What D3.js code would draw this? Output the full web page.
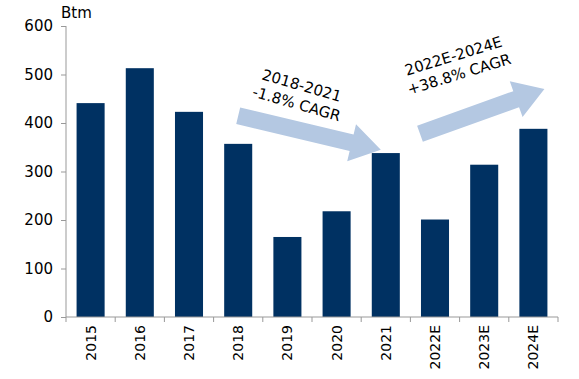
<!DOCTYPE html>
<html>
<head>
<meta charset="utf-8">
<title>Btm</title>
<style>
    body { margin: 0; background: #fff; }
    svg text { font-family: "DejaVu Sans", Verdana, sans-serif; }
</style>
</head>
<body>
<svg id="chart"></svg>
<script src="https://d3js.org/d3.v7.min.js"></script>
<script>
    // data
    const years = ["2015", "2016", "2017", "2018", "2019", "2020", "2021", "2022E", "2023E", "2024E"];
    const values = [441, 513, 423, 357, 165, 218, 338, 201, 314, 388];
    const yTicks = [0, 100, 200, 300, 400, 500, 600];
    const unitLabel = "Btm";
    const notes = [
        {lines: ["2018-2021", "-1.8% CAGR"], from: "2018", to: "2021"},
        {lines: ["2022E-2024E", "+38.8% CAGR"], from: "2022E", to: "2024E"}
    ];

    const svgWidth = 579, svgHeight = 379;
    const margin = {top: 26, right: 21, bottom: 62, left: 66};
    const width = svgWidth - margin.left - margin.right;
    const height = svgHeight - margin.top - margin.bottom;

    const svg = d3.select("#chart")
        .attr("width", svgWidth)
        .attr("height", svgHeight);

    const g = svg.append("g")
        .attr("transform", "translate(" + margin.left + "," + margin.top + ")");

    const x = d3.scaleBand().domain(years).range([0, width]).paddingInner(0.43).paddingOuter(0.215);
    const y = d3.scaleLinear().domain([0, 600]).range([height, 0]);

    // bars
    g.selectAll(".bar")
        .data(values)
        .enter().append("rect")
        .attr("class", "bar")
        .attr("x", function(d, i) { return x(years[i]); })
        .attr("y", function(d) { return y(d); })
        .attr("width", x.bandwidth())
        .attr("height", function(d) { return height - y(d); })
        .attr("fill", "#003162");

    // y axis
    const yAxis = g.append("g")
        .call(d3.axisLeft(y).tickValues(yTicks).tickSize(5).tickPadding(8));
    yAxis.selectAll("text").attr("font-size", 15).attr("fill", "#000");
    yAxis.selectAll("line, path").attr("stroke", "#999");
    yAxis.select(".domain").attr("d", "M0," + height + "V0");

    g.append("text")
        .attr("x", -5)
        .attr("y", -8)
        .attr("font-size", 15)
        .attr("fill", "#000")
        .text(unitLabel);

    // x axis with ticks between categories
    const step = x.step();
    const xg = g.append("g").attr("transform", "translate(0," + height + ")");
    xg.append("line")
        .attr("x1", 0).attr("x2", width)
        .attr("stroke", "#999");
    xg.selectAll(".tick")
        .data(d3.range(years.length + 1))
        .enter().append("line")
        .attr("x1", function(i) { return i * step; })
        .attr("x2", function(i) { return i * step; })
        .attr("y1", 0).attr("y2", 5)
        .attr("stroke", "#999");
    xg.selectAll(".lbl")
        .data(years)
        .enter().append("text")
        .attr("transform", function(d) {
            return "translate(" + (x(d) + x.bandwidth() / 2 + 5) + ",8) rotate(-90)";
        })
        .attr("text-anchor", "end")
        .attr("font-size", 14)
        .attr("fill", "#000")
        .text(function(d) { return d; });

    // growth arrows
    function arrow(x1, y1, x2, y2) {
        const ang = Math.atan2(y2 - y1, x2 - x1);
        const len = Math.hypot(x2 - x1, y2 - y1);
        const sw = 8.5, hw = 19, hl = 30;
        const p = [[0, -sw], [len - hl, -sw], [len - hl, -hw], [len, 0], [len - hl, hw], [len - hl, sw], [0, sw]];
        g.append("path")
            .attr("d", "M" + p.map(function(q) { return q.join(","); }).join("L") + "Z")
            .attr("transform", "translate(" + x1 + "," + y1 + ") rotate(" + (ang * 180 / Math.PI) + ")")
            .attr("fill", "#b4c8e2");
    }

    function note(n, cx, cy, rot) {
        const t = g.append("text")
            .attr("transform", "translate(" + cx + "," + cy + ") rotate(" + rot + ")")
            .attr("text-anchor", "middle")
            .attr("font-size", 15)
            .attr("fill", "#000");
        t.append("tspan").attr("x", 0).attr("dy", 0).text(n.lines[0]);
        t.append("tspan").attr("x", 0).attr("dy", 19).text(n.lines[1]);
    }

    // arrow 1: 2018 -> 2021
    arrow(x(notes[0].from) + x.bandwidth() / 2, y(415),
          x(notes[0].to) + x.bandwidth() / 2 - 5, y(345));
    note(notes[0], x("2019") + x.bandwidth() / 2 + 13, y(467), 16);

    // arrow 2: 2022E -> 2024E
    arrow(x(notes[1].from) - 1, y(378),
          x(notes[1].to) + x.bandwidth() - 3, y(470));
    note(notes[1], x("2022E") + x.bandwidth() / 2 + 20, y(528), -17);
</script>
</body>
</html>
